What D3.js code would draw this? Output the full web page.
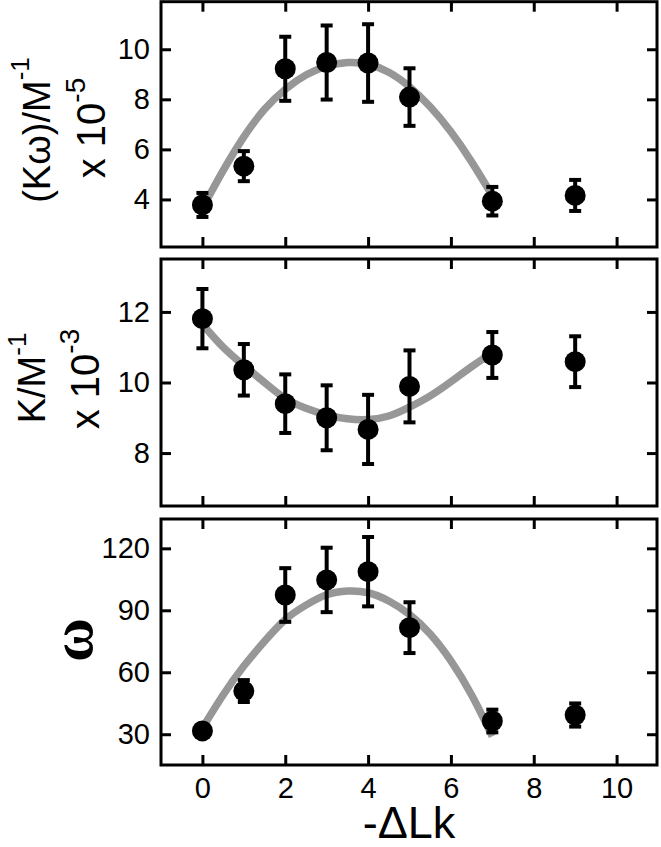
<!DOCTYPE html>
<html>
<head>
<meta charset="utf-8">
<script src="https://cdn.jsdelivr.net/npm/d3@7"></script>
<style>
body { margin: 0; background: #fff; }
svg { display: block; }
text { font-family: "Liberation Sans", Arial, sans-serif; fill: #000; }
</style>
</head>
<body>
<div id="chart"></div>
<script>
const width = 661, height = 847;

// -ΔLk values of the measured topoisomers
const lkValues = [0, 1, 2, 3, 4, 5, 7, 9];
const xTicks = [0, 2, 4, 6, 8, 10];
const fitX = [0, 0.5, 1, 1.5, 2, 2.5, 3, 3.5, 4, 4.5, 5, 5.5, 6, 6.5, 7];

// top: (Kω)/M^-1 x 10^-5
const kwValues = [3.78, 5.33, 9.22, 9.47, 9.45, 8.09, 3.93, 4.16];
const kwErrors = [0.48, 0.6, 1.28, 1.48, 1.55, 1.15, 0.57, 0.62];
const kwTicks = [4, 6, 8, 10];
const kwFit = [3.65, 5.15, 6.5, 7.6, 8.4, 8.97, 9.32, 9.47, 9.4, 9.08, 8.5, 7.7, 6.7, 5.5, 4.15];

// middle: K/M^-1 x 10^-3
const kValues = [11.81, 10.36, 9.40, 9.0, 8.67, 9.89, 10.78, 10.59];
const kErrors = [0.84, 0.73, 0.83, 0.92, 0.98, 1.02, 0.65, 0.72];
const kTicks = [8, 10, 12];
const kFit = [11.65, 11.0, 10.48, 10.0, 9.55, 9.27, 9.08, 8.97, 8.95, 9.05, 9.3, 9.62, 10.02, 10.45, 10.85];

// bottom: ω
const omegaValues = [31.6, 50.9, 97.4, 104.7, 108.7, 81.6, 36.4, 39.3];
const omegaErrors = [2, 5.3, 13, 15.6, 16.8, 12.3, 5.5, 5.6];
const omegaTicks = [30, 60, 90, 120];
const omegaFit = [33, 49, 63, 75, 85.5, 92.5, 97.5, 99.3, 98.5, 94.5, 88, 78.5, 65.5, 49, 29];

const svg = d3.select("#chart").append("svg")
  .attr("width", width)
  .attr("height", height);

const x = d3.scaleLinear().domain([-1, 11]).range([161, 658]);

const panels = [
  { top: 1.7, bottom: 247, domain: [2.1, 11.9], values: kwValues, errors: kwErrors, ticks: kwTicks, fit: kwFit },
  { top: 259, bottom: 506, domain: [6.5, 13.5], values: kValues, errors: kErrors, ticks: kTicks, fit: kFit },
  { top: 519, bottom: 765, domain: [15.1, 134.2], values: omegaValues, errors: omegaErrors, ticks: omegaTicks, fit: omegaFit }
];

function styleAxis(g) {
  g.select(".domain").remove();
  g.selectAll(".tick line").attr("stroke", "#000").attr("stroke-width", 3);
  g.selectAll("text").style("font-size", "29px").attr("font-family", null);
}

panels.forEach((p, i) => {
  const y = d3.scaleLinear().domain(p.domain).range([p.bottom, p.top]);
  const g = svg.append("g");

  // ticks point inward on every side
  g.append("g").attr("transform", `translate(${x.range()[0]},0)`)
    .call(d3.axisLeft(y).tickValues(p.ticks).tickSize(-10).tickPadding(11).tickFormat(d3.format("d")))
    .call(styleAxis);
  g.append("g").attr("transform", `translate(${x.range()[1] - 1},0)`)
    .call(d3.axisRight(y).tickValues(p.ticks).tickSize(-10).tickFormat(""))
    .call(styleAxis);
  g.append("g").attr("transform", `translate(0,${p.top})`)
    .call(d3.axisTop(x).tickValues(xTicks).tickSize(-10).tickFormat(""))
    .call(styleAxis);
  const bottomAxis = d3.axisBottom(x).tickValues(xTicks).tickSize(-10).tickPadding(12);
  if (i < 2) bottomAxis.tickFormat("");
  g.append("g").attr("transform", `translate(0,${p.bottom})`)
    .call(bottomAxis)
    .call(styleAxis);

  g.append("rect")
    .attr("x", x.range()[0])
    .attr("y", p.top)
    .attr("width", x.range()[1] - 1 - x.range()[0])
    .attr("height", p.bottom - p.top)
    .attr("fill", "none")
    .attr("stroke", "#000")
    .attr("stroke-width", 3);

  // fitted curve
  const line = d3.line()
    .x((d, j) => x(fitX[j]))
    .y(d => y(d))
    .curve(d3.curveNatural);
  g.append("path")
    .datum(p.fit)
    .attr("d", line)
    .attr("fill", "none")
    .attr("stroke", "#979797")
    .attr("stroke-width", 7.5);

  // error bars
  const eb = g.append("g").selectAll("g")
    .data(p.values)
    .join("g");
  eb.append("line")
    .attr("x1", (d, j) => x(lkValues[j]))
    .attr("x2", (d, j) => x(lkValues[j]))
    .attr("y1", (d, j) => y(d + p.errors[j]))
    .attr("y2", (d, j) => y(d - p.errors[j]))
    .attr("stroke", "#000")
    .attr("stroke-width", 4);
  [1, -1].forEach(s => {
    eb.append("line")
      .attr("x1", (d, j) => x(lkValues[j]) - 6)
      .attr("x2", (d, j) => x(lkValues[j]) + 6)
      .attr("y1", (d, j) => y(d + s * p.errors[j]))
      .attr("y2", (d, j) => y(d + s * p.errors[j]))
      .attr("stroke", "#000")
      .attr("stroke-width", 4);
  });

  g.append("g").selectAll("circle")
    .data(p.values)
    .join("circle")
    .attr("cx", (d, j) => x(lkValues[j]))
    .attr("cy", d => y(d))
    .attr("r", 10.5)
    .attr("fill", "#000");
});

// axis titles
function title(tx, ty, main, sup, size, supSize, raise) {
  const t = svg.append("text")
    .attr("transform", `translate(${tx},${ty}) rotate(-90)`)
    .attr("text-anchor", "middle")
    .style("font-size", size + "px");
  t.append("tspan").text(main);
  t.append("tspan").attr("dy", -raise).style("font-size", supSize + "px").text(sup);
  return t;
}
title(50, 130, "(K\u03c9)/M", "-1", 38, 26, 21);
title(105, 128, "x 10", "-5", 40, 28, 20);
title(45, 378, "K/M", "-1", 38, 26, 19);
title(99, 379, "x 10", "-3", 40, 28, 20);

svg.append("text")
  .attr("transform", "translate(92,640) rotate(-90)")
  .attr("text-anchor", "middle")
  .style("font-family", "'Liberation Serif', serif")
  .style("font-weight", "bold")
  .style("font-size", "60px")
  .text("\u03c9");

svg.append("text")
  .attr("x", 409)
  .attr("y", 838)
  .attr("text-anchor", "middle")
  .style("font-size", "45px")
  .text("-\u0394Lk");
</script>
</body>
</html>
